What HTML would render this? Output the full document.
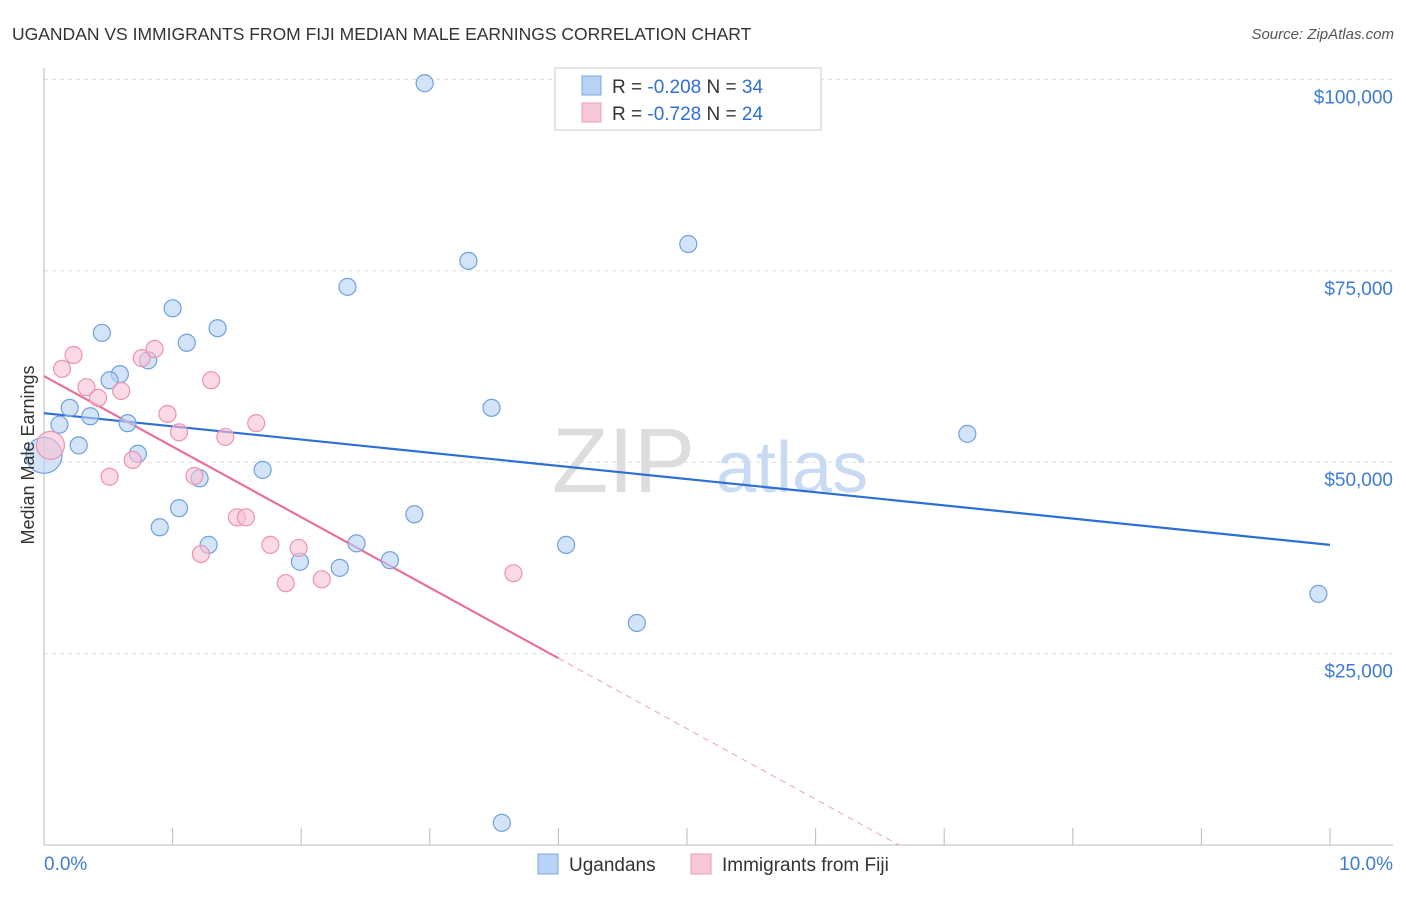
<!DOCTYPE html>
<html><head><meta charset="utf-8"><style>
body{margin:0;background:#fff;font-family:"Liberation Sans",sans-serif}
svg text{font-family:"Liberation Sans",sans-serif}
</style></head><body>
<svg id="c" width="1406" height="892">
<text x="12" y="40" font-size="17.5" fill="#333">UGANDAN VS IMMIGRANTS FROM FIJI MEDIAN MALE EARNINGS CORRELATION CHART</text>
<text x="1394" y="39" font-size="15" fill="#555" text-anchor="end" font-style="italic">Source: ZipAtlas.com</text>
<g id="grid"></g>
<g><text x="552" y="492" font-size="92" fill="#ddd" font-family="Liberation Serif">ZIP</text><text x="716" y="492" font-size="72" fill="#c9dbf3">atlas</text></g>
<g id="axes"></g>
<g id="lines"></g>
<g id="pts"></g>
<text transform="translate(34,455) rotate(-90)" font-size="18" fill="#333" text-anchor="middle">Median Male Earnings</text>
<g>
<rect x="555" y="68" width="266" height="62" fill="#fff" stroke="#ccc"/>
<rect x="582" y="76" width="19" height="19" fill="#b8d2f4" stroke="#7aa8e4"/>
<rect x="582" y="103" width="19" height="19" fill="#f9c8d8" stroke="#ee9ab8"/>
<text x="612" y="93" font-size="19" fill="#333">R = <tspan fill="#2d6fd4">-0.208</tspan>   N = <tspan fill="#2d6fd4">34</tspan></text>
<text x="612" y="120" font-size="19" fill="#333">R = <tspan fill="#2d6fd4"> -0.728</tspan>   N = <tspan fill="#2d6fd4">24</tspan></text>
</g>
<g>
<rect x="538" y="854" width="20" height="20" fill="#b8d2f4" stroke="#7aa8e4"/>
<text x="569" y="871" font-size="19" fill="#333">Ugandans</text>
<rect x="691" y="854" width="20" height="20" fill="#f9c8d8" stroke="#ee9ab8"/>
<text x="722" y="871" font-size="19" fill="#333">Immigrants from Fiji</text>
</g>
</svg>
<script>
const yTicks=[25000,50000,75000,100000];
const yTickLabels=["$25,000","$50,000","$75,000","$100,000"];
const blueX=[2.96,5.01,3.30,2.36,1.00,1.35,0.45,1.11,0.81,0.59,0.51,0.20,0.36,0.12,0.65,0.27,0.73,0.0,1.70,1.21,3.48,7.18,1.05,0.90,2.88,1.28,2.43,4.06,1.99,2.30,2.69,4.61,9.91,3.56];
const blueY=[99500,78500,76300,72900,70100,67500,66900,65600,63300,61500,60700,57100,56000,54900,55100,52200,51100,50900,49000,47900,57100,53700,44000,41500,43200,39200,39400,39200,37000,36200,37200,29000,32800,2900];
const pinkX=[0.23,0.14,0.33,0.42,0.60,0.76,0.86,1.30,0.96,1.05,1.41,1.65,0.69,0.51,1.17,1.50,1.57,1.76,1.98,1.22,1.88,2.16,3.65,0.05];
const pinkY=[64000,62200,59800,58400,59300,63600,64800,60700,56300,53900,53300,55100,50300,48100,48200,42800,42800,39200,38800,38000,34200,34700,35500,52200];
const blueTrend=[56400,39200];
const pinkTrend=[61250,24400];
const pinkSolidEnd=4.0;
const X=v=>44+v*128.6, Y=v=>845-v/25000*191.4;
const NS="http://www.w3.org/2000/svg";
function mk(t,a,p){const e=document.createElementNS(NS,t);for(const k in a)e.setAttribute(k,a[k]);p.appendChild(e);return e;}
const grid=document.getElementById('grid'),axes=document.getElementById('axes'),lines=document.getElementById('lines'),pts=document.getElementById('pts');
yTicks.forEach((t,i)=>{const g=mk('line',{x1:44,x2:1393,y1:Y(t),y2:Y(t),stroke:'#ddd','stroke-dasharray':'4 4'},grid);


const l=mk('text',{x:1393,y:Y(t)+24,'font-size':19,fill:'#3d7bd4','text-anchor':'end'},axes);l.textContent=yTickLabels[i];

});
const xa=mk('line',{x1:44,x2:1393,y1:845,y2:845,stroke:'#bbb'},axes);


const ya=mk('line',{x1:44,x2:44,y1:68,y2:845,stroke:'#bbb'},axes);


for(let i=1;i<=10;i++){const t=mk('line',{x1:X(i),x2:X(i),y1:828,y2:845,stroke:'#bbb'},axes);

}
[[0,'0.0%','start',44],[10,'10.0%','end',1393]].forEach(d=>{const t=mk('text',{x:d[3],y:870,'font-size':19,fill:'#3d7bd4','text-anchor':d[2]},axes);t.textContent=d[1];

});
function dot(x,y,r,f,s){const c=mk('circle',{cx:X(x),cy:Y(y),r:r,fill:f,'fill-opacity':0.6,stroke:s,'stroke-width':1.2},pts);return c;}
blueX.forEach((x,i)=>{const c=dot(x,blueY[i],x===0?18:8.5,'#b8d2f4','#6fa0e0');

});
pinkX.forEach((x,i)=>{const c=dot(x,pinkY[i],i===23?14:8.5,'#f9c0d4','#ec93b4');

});
const bl=mk('line',{x1:X(0),y1:Y(blueTrend[0]),x2:X(10),y2:Y(blueTrend[1]),stroke:'#2d6fd4','stroke-width':2.2},lines);


const slope=(pinkTrend[1]-pinkTrend[0])/pinkSolidEnd, xz=-pinkTrend[0]/slope;
const pl=mk('line',{x1:X(0),y1:Y(pinkTrend[0]),x2:X(pinkSolidEnd),y2:Y(pinkTrend[1]),stroke:'#e8709a','stroke-width':2.2},lines);


const pd=mk('line',{x1:X(pinkSolidEnd),y1:Y(pinkTrend[1]),x2:X(xz),y2:Y(0),stroke:'#eea0bc','stroke-width':1,'stroke-dasharray':'6 5'},lines);


</script>
</body></html>
